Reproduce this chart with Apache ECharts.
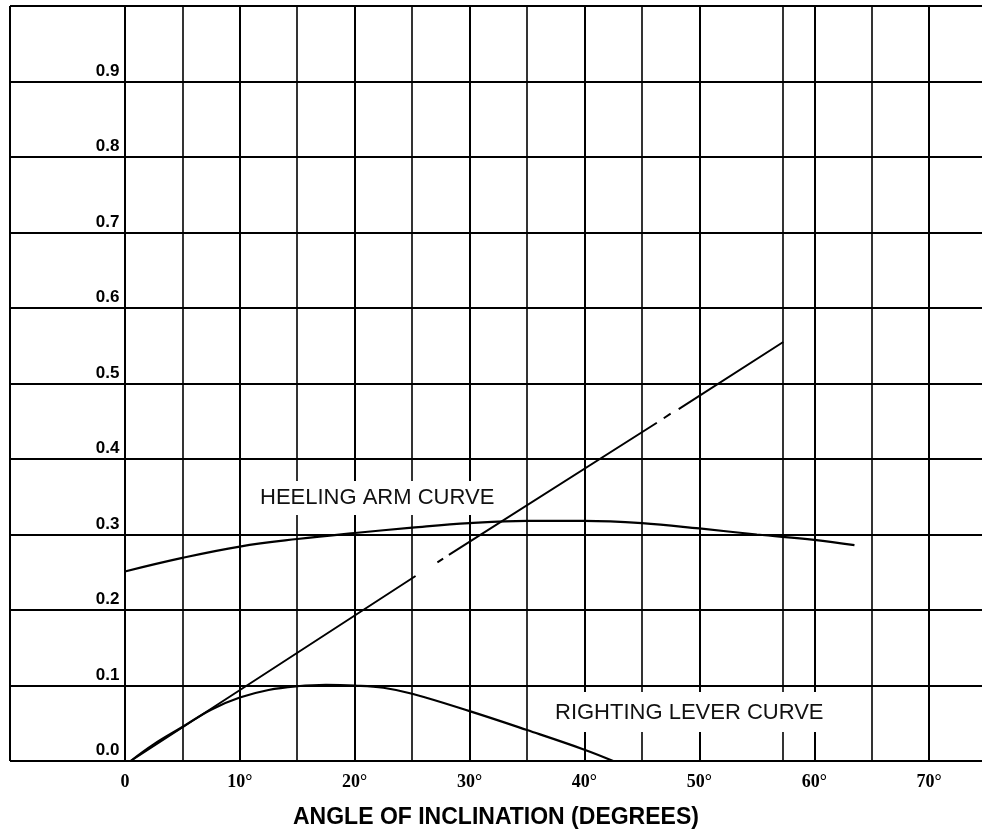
<!DOCTYPE html>
<html>
<head>
<meta charset="utf-8">
<script src="https://cdn.jsdelivr.net/npm/echarts@6/dist/echarts.min.js"></script>
<style>
  html, body { margin: 0; padding: 0; background: #fff; }
  #chart { width: 982px; height: 838px; }
</style>
</head>
<body>
<div id="chart"></div>
<script>
// angle (deg) / lever (m) pairs
const heelingArm = [
  [0, 0.251], [5, 0.269], [10, 0.284], [15, 0.294], [20, 0.302], [25, 0.309],
  [30, 0.315], [35, 0.318], [40, 0.318], [45, 0.315], [50, 0.308], [55, 0.300],
  [60, 0.293], [63.5, 0.286]
]
const rightingLever = [
  [0.5, 0], [2.5, 0.022], [5, 0.045], [7.5, 0.068], [10, 0.084], [12.5, 0.094],
  [15, 0.099], [17.5, 0.101], [20, 0.100], [22.5, 0.097], [25, 0.089],
  [30, 0.066], [35, 0.041], [40, 0.015], [42.5, 0]
]
// tangent at origin, up to 57.3 deg (1 rad); '-' = break in the line
const tangentLine = [
  [0.5, 0], [25.3, 0.245], [26.2, '-'], [27.2, 0.263], [27.7, 0.268], [28, '-'],
  [28.2, 0.273], [46.3, 0.448], [46.6, '-'], [46.9, 0.454], [47.5, 0.46], [47.8, '-'],
  [48.2, 0.466], [57.3, 0.555]
]
const majorAngles = [-10, 0, 10, 20, 30, 40, 50, 60, 70]
const minorAngles = [5, 15, 25, 35, 45, 57.3, 65]

const chart = echarts.init(document.getElementById('chart'))

const vLines = (vals, w) => ({
  silent: true,
  symbol: 'none',
  animation: false,
  label: { show: false },
  lineStyle: { type: 'solid', color: '#000', width: w },
  data: vals.map(v => ({ xAxis: v }))
})

const option = {
  animation: false,
  backgroundColor: '#fff',
  grid: { left: 10, right: 0, top: 6, bottom: 77 },
  xAxis: {
    type: 'value',
    min: -10,
    max: 74.6,
    interval: 10,
    axisLine: { show: false },
    axisTick: { show: false },
    splitLine: { show: false },
    axisLabel: {
      margin: 12,
      fontFamily: '"Liberation Serif", "Times New Roman", serif',
      fontWeight: 'bold',
      fontSize: 18,
      color: '#000',
      showMaxLabel: false,
      formatter: v => (v < 0 || v > 70) ? '' : (v === 0 ? '0' : v + '°')
    }
  },
  yAxis: {
    type: 'value',
    min: 0,
    max: 1,
    interval: 0.1,
    offset: -114.5,
    axisLine: { show: false },
    axisTick: { show: false },
    splitLine: { show: true, lineStyle: { color: '#000', width: 2 } },
    axisLabel: {
      margin: 5,
      verticalAlign: 'bottom',
      lineHeight: 17,
      padding: [0, 0, 2, 0],
      fontFamily: '"Liberation Sans", Arial, sans-serif',
      fontWeight: 'bold',
      fontSize: 17,
      color: '#000',
      formatter: v => v > 0.95 ? '' : v.toFixed(1)
    }
  },
  graphic: [
    {
      type: 'text', z: 100, left: 254, top: 481,
      style: {
        text: 'HEELING ARM CURVE',
        font: '22px "Liberation Sans", Arial, sans-serif',
        fill: '#111',
        backgroundColor: '#fff',
        padding: [6, 6, 6, 6]
      }
    },
    {
      type: 'text', z: 100, left: 549, top: 692,
      style: {
        text: 'RIGHTING LEVER CURVE',
        font: '22px "Liberation Sans", Arial, sans-serif',
        fill: '#111',
        backgroundColor: '#fff',
        padding: [10, 6, 8, 6]
      }
    },
    {
      type: 'text', left: 293, top: 806,
      style: {
        text: 'ANGLE OF INCLINATION (DEGREES)',
        font: 'bold 23px "Liberation Sans", Arial, sans-serif',
        fill: '#000'
      }
    }
  ],
  series: [
    {
      name: 'Heeling arm',
      type: 'line',
      data: heelingArm,
      smooth: 0.4,
      showSymbol: false,
      lineStyle: { color: '#000', width: 2.2 },
      markLine: vLines(majorAngles, 2)
    },
    {
      name: 'Righting lever',
      type: 'line',
      data: rightingLever,
      smooth: 0.4,
      showSymbol: false,
      lineStyle: { color: '#000', width: 2.2 },
      markLine: vLines(minorAngles, 1.6)
    },
    {
      name: 'Tangent',
      type: 'line',
      data: tangentLine,
      connectNulls: false,
      showSymbol: false,
      lineStyle: { color: '#000', width: 2 }
    }
  ]
}

chart.setOption(option)
</script>
</body>
</html>
